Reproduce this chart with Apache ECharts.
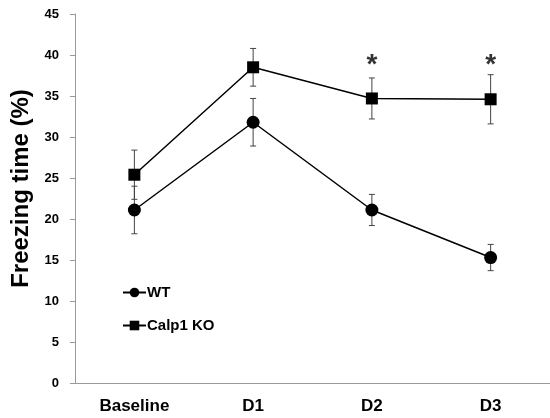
<!DOCTYPE html>
<html>
<head>
<meta charset="utf-8">
<script src="https://cdn.jsdelivr.net/npm/echarts@6/dist/echarts.min.js"></script>
<style>
  html, body { margin: 0; padding: 0; background: #fff; }
  #chart { width: 550px; height: 418px; }
</style>
</head>
<body>
<div id="chart"></div>
<script>
  // data
  var categories = ['Baseline', 'D1', 'D2', 'D3'];
  var wtMean = [21.1, 31.8, 21.1, 15.3];
  var wtErr = [2.9, 2.9, 1.9, 1.6];
  var koMean = [25.4, 38.5, 34.7, 34.6];
  var koErr = [3.0, 2.3, 2.5, 3.0];
  var starY = [null, null, 39.6, 39.6];
  var yTicks = [0, 45, 5];

  var font = 'Liberation Sans, Arial, sans-serif';

  function errData(mean, err) {
    var out = [];
    for (var i = 0; i < mean.length; i++) {
      out.push([i, mean[i] - err[i], mean[i] + err[i]]);
    }
    return out;
  }

  function errRender(params, api) {
    var x = api.value(0);
    var lo = api.coord([x, api.value(1)]);
    var hi = api.coord([x, api.value(2)]);
    var w = 3;
    var style = { stroke: '#444', lineWidth: 1 };
    return {
      type: 'group',
      children: [
        { type: 'line', shape: { x1: lo[0], y1: lo[1], x2: hi[0], y2: hi[1] }, style: style },
        { type: 'line', shape: { x1: lo[0] - w, y1: lo[1], x2: lo[0] + w, y2: lo[1] }, style: style },
        { type: 'line', shape: { x1: hi[0] - w, y1: hi[1], x2: hi[0] + w, y2: hi[1] }, style: style }
      ]
    };
  }

  var chart = echarts.init(document.getElementById('chart'));
  chart.setOption({
    animation: false,
    grid: { left: 75, right: 0, top: 14, bottom: 35 },
    legend: {
      orient: 'vertical',
      left: 117,
      top: 280,
      itemWidth: 23,
      itemHeight: 12,
      itemGap: 18,
      data: ['WT', 'Calp1 KO'],
      textStyle: { fontFamily: font, fontWeight: 'bold', fontSize: 15, color: '#000', padding: [0, 0, 0, -4] }
    },
    xAxis: {
      type: 'category',
      data: categories,
      boundaryGap: true,
      axisLine: { lineStyle: { color: '#999' } },
      axisTick: { length: 5, lineStyle: { color: '#999' } },
      axisLabel: { margin: 15, fontFamily: font, fontWeight: 'bold', fontSize: 17, color: '#000' }
    },
    yAxis: {
      type: 'value',
      min: yTicks[0],
      max: yTicks[1],
      interval: yTicks[2],
      name: 'Freezing time (%)',
      nameLocation: 'middle',
      nameGap: 41,
      nameTextStyle: { fontFamily: font, fontWeight: 'bold', fontSize: 24, color: '#000', padding: [0, 0, 0, 20] },
      axisLine: { show: true, lineStyle: { color: '#999' } },
      axisTick: { show: true, length: 5, lineStyle: { color: '#999' } },
      splitLine: { show: false },
      axisLabel: { margin: 16, fontFamily: font, fontWeight: 'bold', fontSize: 13, color: '#000' }
    },
    series: [
      {
        name: 'WT', type: 'line', data: wtMean,
        symbol: 'circle', symbolSize: 13, z: 3,
        lineStyle: { color: '#000', width: 1.5 },
        itemStyle: { color: '#000' }
      },
      {
        name: 'Calp1 KO', type: 'line', data: koMean,
        symbol: 'rect', symbolSize: 12, z: 3,
        lineStyle: { color: '#000', width: 1.5 },
        itemStyle: { color: '#000' }
      },
      { type: 'custom', renderItem: errRender, data: errData(wtMean, wtErr), z: 2, silent: true },
      { type: 'custom', renderItem: errRender, data: errData(koMean, koErr), z: 2, silent: true },
      {
        type: 'scatter', data: starY, symbolSize: 0, silent: true,
        label: {
          show: true, position: 'inside', formatter: '*',
          fontFamily: font, fontWeight: 'bold', fontSize: 28, color: '#000',
          offset: [0, 7]
        }
      }
    ]
  });
</script>
</body>
</html>
